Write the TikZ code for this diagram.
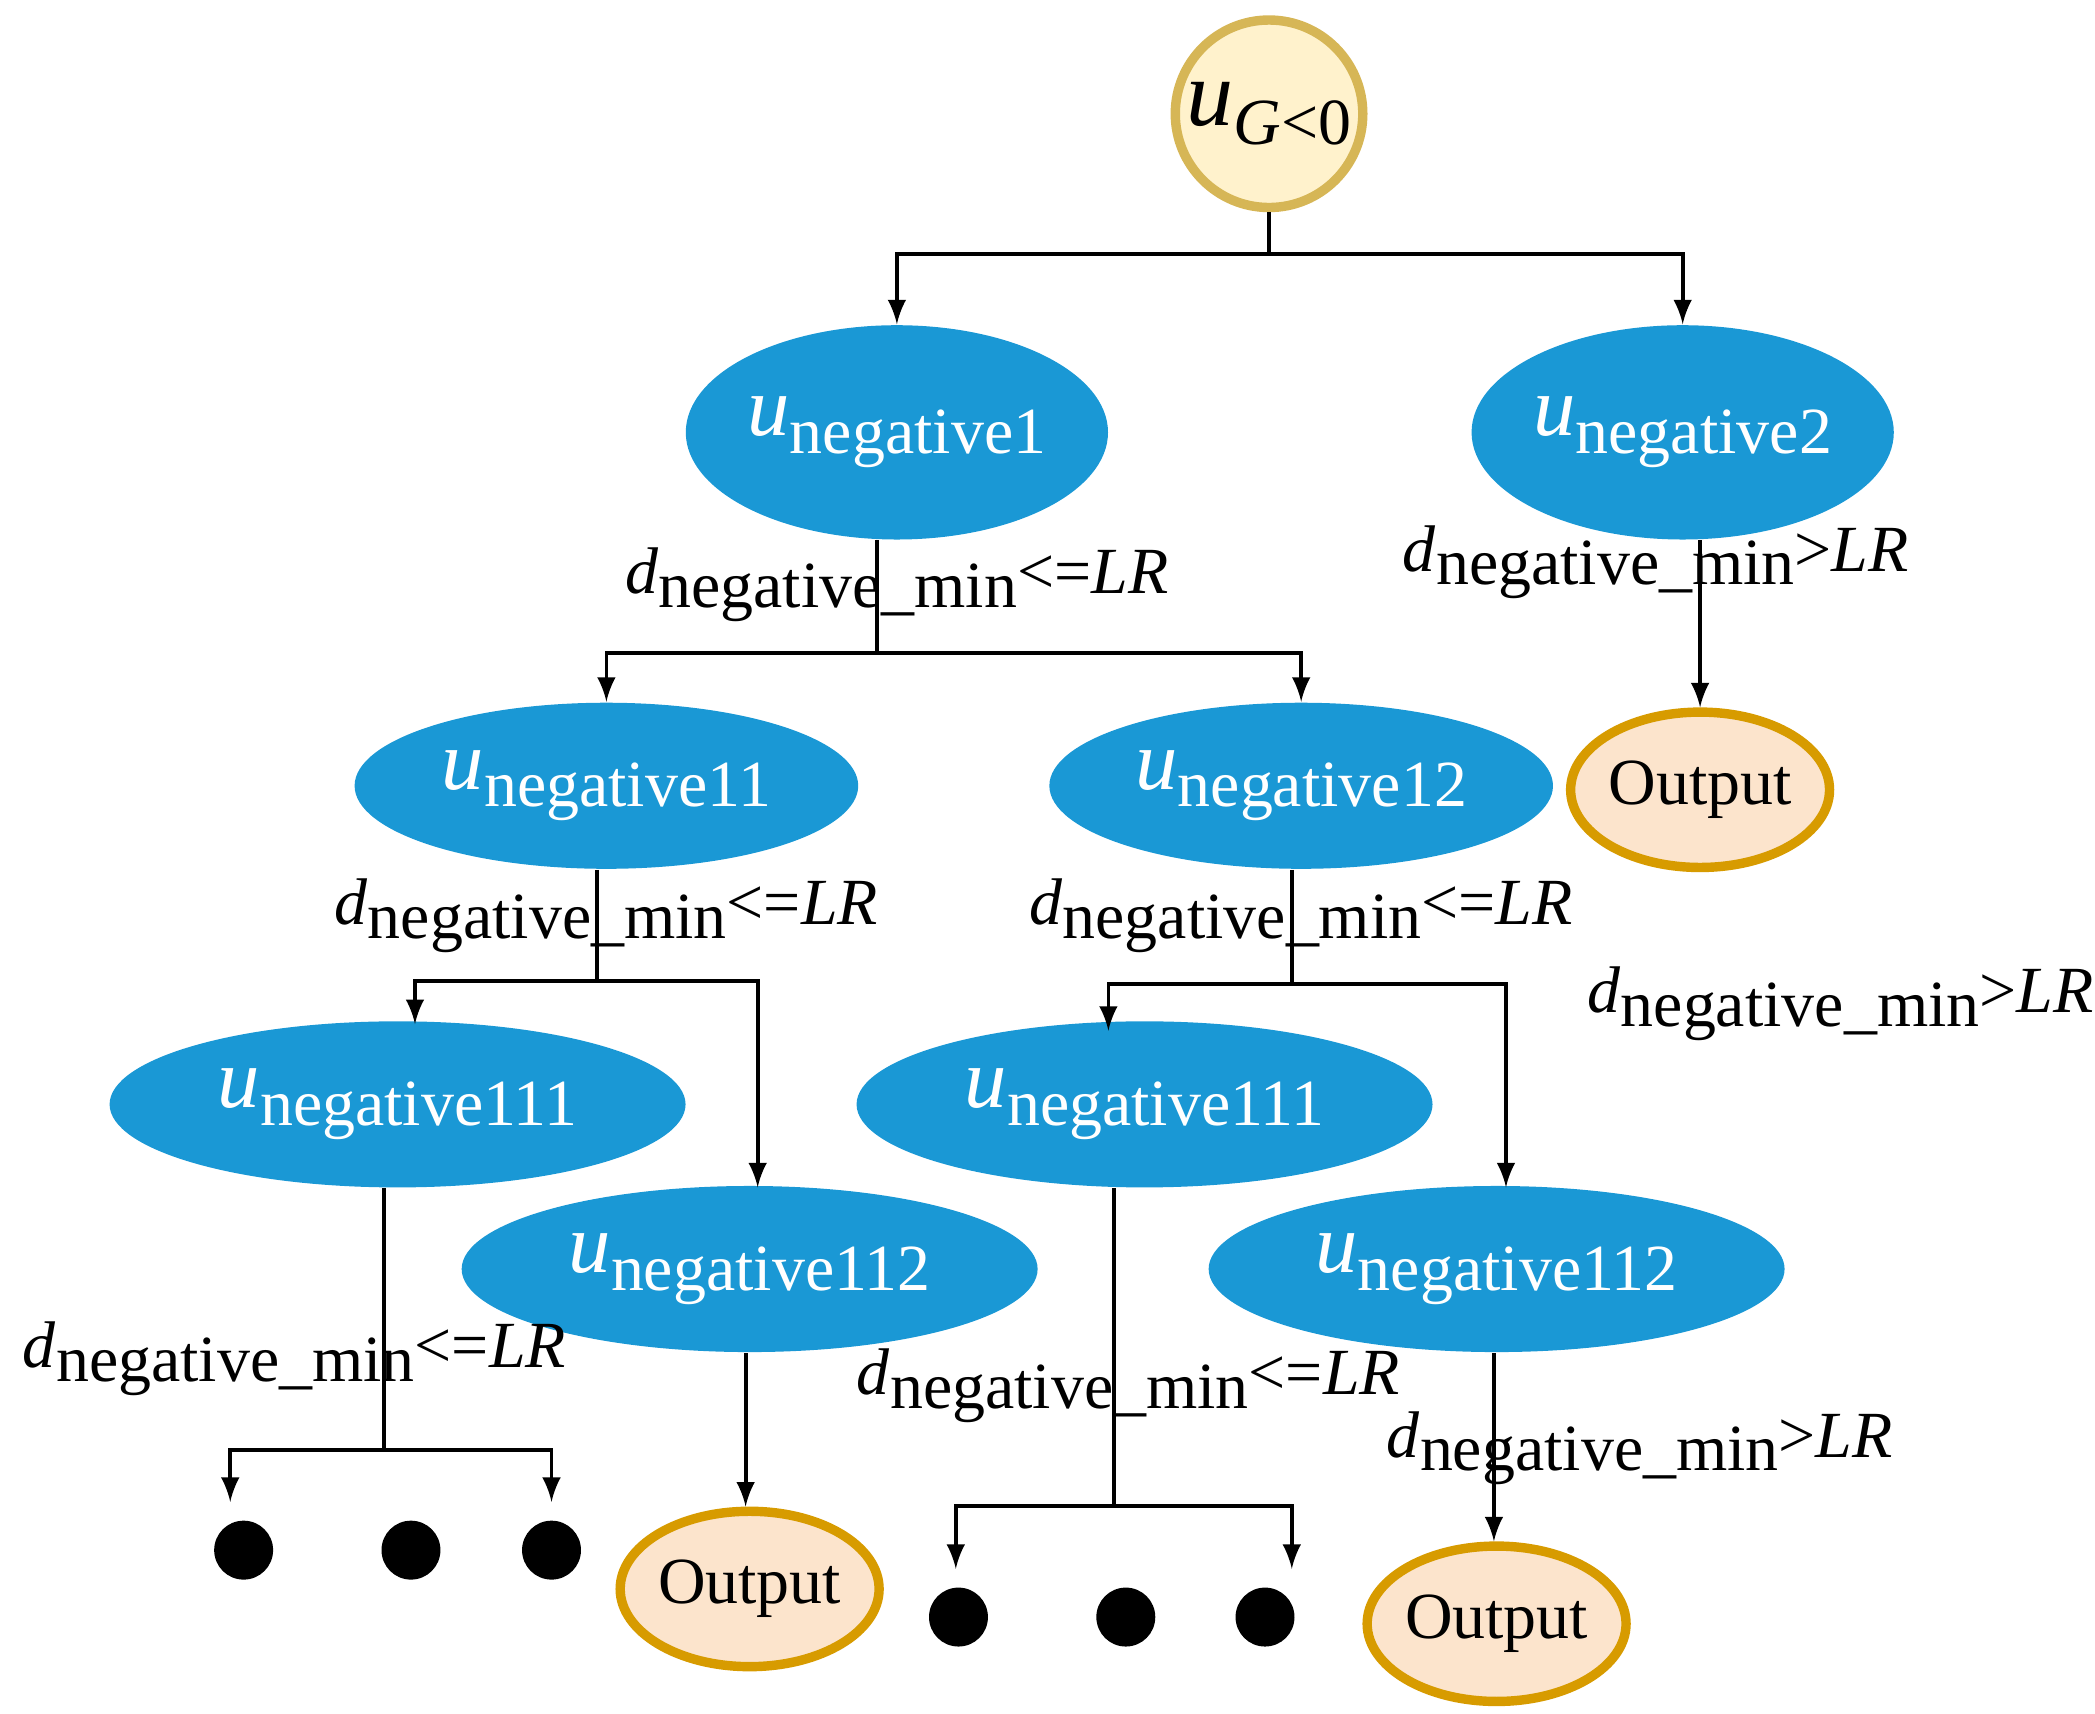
\documentclass[tikz,border=0pt]{standalone}
\usepackage{fontspec}
\setmainfont{Liberation Serif}
\usetikzlibrary{shapes.geometric}
\definecolor{nodeblue}{HTML}{1A98D5}
\definecolor{rootfill}{HTML}{FFF2CC}
\definecolor{rootline}{HTML}{D6B656}
\definecolor{outfill}{HTML}{FCE4CC}
\definecolor{outedge}{HTML}{D79B00}
\newcommand{\dlab}[1]{\textit{d}\raisebox{-0.45ex}{negative\_min}#1\textit{LR}}
\newcommand{\ulab}[1]{\fontsize{18}{20}\selectfont\textit{u}\raisebox{-0.45ex}{\fontsize{14}{16}\selectfont #1}}
\tikzset{
  neg/.style={ellipse, fill=nodeblue, text=white, inner sep=0pt},
  outnode/.style={ellipse, fill=outfill, draw=outedge, line width=2pt, minimum width=1.3cm, minimum height=1.16cm, inner sep=0pt, font=\fontsize{14}{16}\selectfont},
  dot/.style={circle, fill=black, minimum size=0.44cm, inner sep=0pt},
  lab/.style={font=\fontsize{14}{16}\selectfont, inner sep=0pt},
  arr/.style={-latex, thick},
  ln/.style={thick}
}
\begin{document}
\begin{tikzpicture}[x=0.01cm,y=-0.01cm]
\useasboundingbox (0,0) rectangle (1565,1280);
% nodes
\node[circle, fill=rootfill, draw=rootline, line width=2pt, minimum size=1.4cm, inner sep=0pt] (root) at (948,85) {\fontsize{20}{22}\selectfont\textit{u}\raisebox{-0.45ex}{\fontsize{14}{16}\selectfont\textit{G}<0}};
\node[neg, minimum width=2.94cm, minimum height=1.6cm] (n1) at (670,323) {\ulab{negative1}};
\node[neg, minimum width=2.94cm, minimum height=1.6cm] (n2) at (1257,323) {\ulab{negative2}};
\node[neg, minimum width=3.76cm, minimum height=1.24cm] (n11) at (453,587) {\ulab{negative11}};
\node[neg, minimum width=3.76cm, minimum height=1.24cm] (n12) at (972,587) {\ulab{negative12}};
\node[neg, minimum width=4.3cm, minimum height=1.24cm] (n111) at (297,825) {\ulab{negative111}};
\node[neg, minimum width=4.3cm, minimum height=1.24cm] (n112) at (560,948) {\ulab{negative112}};
\node[neg, minimum width=4.3cm, minimum height=1.24cm] (n121) at (855,825) {\ulab{negative111}};
\node[neg, minimum width=4.3cm, minimum height=1.24cm] (n122) at (1118,948) {\ulab{negative112}};
\node[outnode] (o2) at (1270,590) {Output};
\node[outnode] (o112) at (560,1187) {Output};
\node[outnode] (o122) at (1118,1213) {Output};
\node[dot] (a1) at (182,1158) {};
\node[dot] (a2) at (307,1158) {};
\node[dot] (a3) at (412,1158) {};
\node[dot] (b1) at (716,1208) {};
\node[dot] (b2) at (841,1208) {};
\node[dot] (b3) at (945,1208) {};
% split points
\coordinate (s0) at (948,190);
\coordinate (s1) at (655,488);
\coordinate (s11) at (446,733);
\coordinate (s12) at (965,735);
\coordinate (s111) at (287,1083);
\coordinate (s121) at (832,1125);
% connectors
\draw[ln] (root) -- (s0);
\draw[arr] (s0) -| (n1);
\draw[arr] (s0) -| (n2);
\draw[ln] (n1.south -| s1) -- (s1);
\draw[arr] (s1) -| (n11);
\draw[arr] (s1) -| (n12);
\draw[arr] (n2.south -| o2) -- (o2);
\draw[ln] (n11.south -| s11) -- (s11);
\draw[arr] (s11) -| (310,765);
\draw[arr] (s11) -| (566,887);
\draw[ln] (n12.south -| s12) -- (s12);
\draw[arr] (s12) -| (828,770);
\draw[arr] (s12) -| (1125,887);
\draw[ln] (n111.south -| s111) -- (s111);
\draw[arr] (s111) -| (172,1122);
\draw[arr] (s111) -| (412,1122);
\draw[arr] (n112.south -| 557,0) -- (o112.north -| 557,0);
\draw[ln] (n121.south -| s121) -- (s121);
\draw[arr] (s121) -| (714,1172);
\draw[arr] (s121) -| (965,1172);
\draw[arr] (n122.south -| 1116,0) -- (o122.north -| 1116,0);
% labels
\node[lab] (l1) at (670,437) {\dlab{<=}};
\node[lab] (l2) at (1237,420) {\dlab{>}};
\node[lab] (l11) at (453,684) {\dlab{<=}};
\node[lab] (l12) at (972,684) {\dlab{<=}};
\node[lab] (lx) at (1375,750) {\dlab{>}};
\node[lab] (l111) at (220,1015) {\dlab{<=}};
\node[lab] (l121) at (843,1035) {\dlab{<=}};
\node[lab] (l122) at (1225,1082) {\dlab{>}};
\end{tikzpicture}
\end{document}
